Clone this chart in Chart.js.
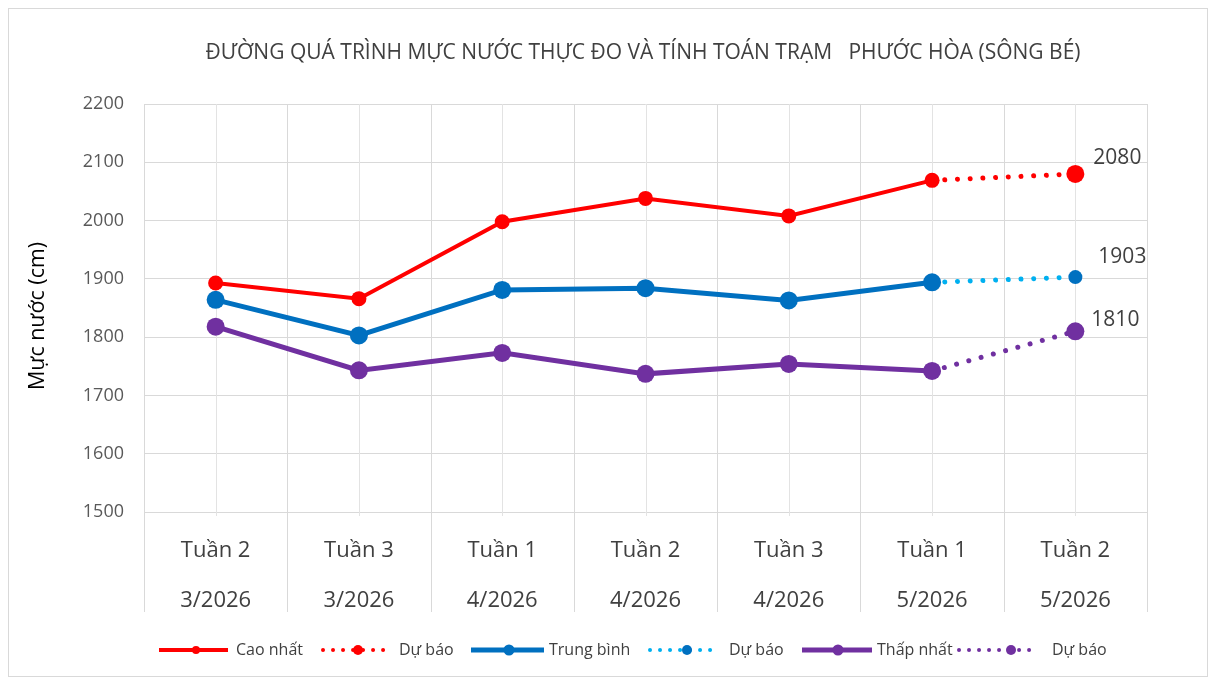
<!DOCTYPE html>
<html>
<head>
<meta charset="utf-8">
<script src="https://cdn.jsdelivr.net/npm/chart.js@4.4.1/dist/chart.umd.min.js"></script>
<style>
  html, body { margin: 0; padding: 0; background: #ffffff; }
  #wrap { position: relative; width: 1215px; height: 684px; }
</style>
</head>
<body>
<div id="wrap"><canvas id="c" width="1215" height="684"></canvas></div>
<script>
// ---- data ----
const weekLabels = ["Tuần 2", "Tuần 3", "Tuần 1", "Tuần 2", "Tuần 3", "Tuần 1", "Tuần 2"];
const monthLabels = ["3/2026", "3/2026", "4/2026", "4/2026", "4/2026", "5/2026", "5/2026"];
const caoNhat = [1893, 1866, 1998, 2038, 2008, 2069, null];
const caoNhatDuBao = [null, null, null, null, null, 2069, 2080];
const trungBinh = [1864, 1803, 1881, 1884, 1863, 1894, null];
const trungBinhDuBao = [null, null, null, null, null, 1894, 1903];
const thapNhat = [1818, 1743, 1773, 1737, 1754, 1742, null];
const thapNhatDuBao = [null, null, null, null, null, 1742, 1810];
const yMin = 1500, yMax = 2200, yStep = 100;
const titleText = "ĐƯỜNG QUÁ TRÌNH MỰC NƯỚC THỰC ĐO VÀ TÍNH TOÁN TRẠM   PHƯỚC HÒA (SÔNG BÉ)";
const yTitle = "Mực nước (cm)";

const categories = weekLabels.map((w, i) => [w, monthLabels[i]]);
const FONT = "'Open Sans', sans-serif";
const TXT = "#404040";

function fcRadius(arr, r) { return arr.map((v, i) => (v !== null && i === arr.length - 1) ? r : 0); }

const datasets = [
  { label: "Dự báo", data: caoNhatDuBao, borderColor: "#ff0000", backgroundColor: "#ff0000",
    borderWidth: 5, borderDash: [0.01, 12.7], borderCapStyle: "round", pointBorderWidth: 0,
    pointRadius: fcRadius(caoNhatDuBao, 9), pointHoverRadius: 0, showValue: true, dx: 18, dy: -16, order: 4 },
  { label: "Dự báo", data: trungBinhDuBao, borderColor: "#00b0f0", backgroundColor: "#0070c0",
    borderWidth: 5, borderDash: [0.01, 12.7], borderCapStyle: "round", pointBorderWidth: 0,
    pointRadius: fcRadius(trungBinhDuBao, 7), pointHoverRadius: 0, showValue: true, dx: 23, dy: -20, order: 5 },
  { label: "Dự báo", data: thapNhatDuBao, borderColor: "#7030a0", backgroundColor: "#7030a0",
    borderWidth: 5, borderDash: [0.01, 12.7], borderCapStyle: "round", pointBorderWidth: 0,
    pointRadius: fcRadius(thapNhatDuBao, 9), pointHoverRadius: 0, showValue: true, dx: 16, dy: -11, order: 6 },
  { label: "Cao nhất", data: caoNhat, borderColor: "#ff0000", backgroundColor: "#ff0000",
    borderWidth: 4, pointRadius: 7.5, pointHoverRadius: 7.5, pointBorderWidth: 0, order: 1 },
  { label: "Trung bình", data: trungBinh, borderColor: "#0070c0", backgroundColor: "#0070c0",
    borderWidth: 5, pointRadius: 9, pointHoverRadius: 9, pointBorderWidth: 0, order: 2 },
  { label: "Thấp nhất", data: thapNhat, borderColor: "#7030a0", backgroundColor: "#7030a0",
    borderWidth: 5, pointRadius: 9, pointHoverRadius: 9, pointBorderWidth: 0, order: 3 }
];

const legendItems = [
  { text: "Cao nhất", color: "#ff0000", mColor: "#ff0000", dotted: false, x0: 159, x1: 228, m: 196, tx: 236, w: 4, r: 4 },
  { text: "Dự báo", color: "#ff0000", mColor: "#ff0000", dotted: true, x0: 323, x1: 389, m: 358, tx: 399, w: 4, r: 5 },
  { text: "Trung bình", color: "#0070c0", mColor: "#0070c0", dotted: false, x0: 471, x1: 544, m: 509, tx: 549, w: 5, r: 5.5 },
  { text: "Dự báo", color: "#00b0f0", mColor: "#0070c0", dotted: true, x0: 650, x1: 720, m: 687, tx: 729, w: 4, r: 5 },
  { text: "Thấp nhất", color: "#7030a0", mColor: "#7030a0", dotted: false, x0: 802, x1: 872, m: 838, tx: 877, w: 5, r: 5.5 },
  { text: "Dự báo", color: "#7030a0", mColor: "#7030a0", dotted: true, x0: 959, x1: 1033, m: 1011, tx: 1052, w: 4, r: 5 }
];

// draw text condensed to a target width (mimics the narrow original font)
function narrowText(ctx, text, x, y, targetW) {
  const w = ctx.measureText(text).width;
  const sx = targetW / w;
  ctx.save();
  ctx.translate(x, y);
  ctx.scale(sx, 1);
  ctx.fillText(text, 0, 0);
  ctx.restore();
}

const decor = {
  id: "decor",
  beforeDraw(chart) {
    const ctx = chart.ctx;
    ctx.save();
    ctx.fillStyle = "#ffffff";
    ctx.fillRect(0, 0, chart.width, chart.height);
    ctx.strokeStyle = "#d9d9d9";
    ctx.lineWidth = 1;
    ctx.strokeRect(8.5, 8.5, 1199, 668);
    ctx.restore();
  },
  beforeDatasetsDraw(chart) {
    const ctx = chart.ctx, xs = chart.scales.x, a = chart.chartArea;
    ctx.save();
    ctx.strokeStyle = "#e3e3e3";
    ctx.lineWidth = 1;
    for (let i = 0; i < categories.length; i++) {
      const px = Math.round(xs.getPixelForValue(i)) + 0.5;
      ctx.beginPath(); ctx.moveTo(px, a.top); ctx.lineTo(px, a.bottom + 4); ctx.stroke();
    }
    ctx.strokeStyle = "#d9d9d9";
    const half = (xs.getPixelForValue(1) - xs.getPixelForValue(0)) / 2;
    for (let i = 0; i <= categories.length; i++) {
      const px = Math.round(xs.getPixelForValue(i) - half) + 0.5;
      ctx.beginPath(); ctx.moveTo(px, a.top); ctx.lineTo(px, 612); ctx.stroke();
    }
    ctx.restore();
  },
  afterDraw(chart) {
    const ctx = chart.ctx;
    ctx.save();
    // title
    ctx.fillStyle = TXT;
    ctx.font = "21px " + FONT;
    ctx.textAlign = "center";
    ctx.textBaseline = "middle";
    narrowText(ctx, titleText, 643, 53, 875);
    // y title
    ctx.save();
    ctx.translate(38, 316);
    ctx.rotate(-Math.PI / 2);
    ctx.fillStyle = "#000000";
    ctx.font = "21px " + FONT;
    narrowText(ctx, yTitle, 0, 0, 148);
    ctx.restore();
    // value labels on forecast end points
    ctx.font = "21px " + FONT;
    ctx.fillStyle = TXT;
    ctx.textAlign = "left";
    chart.data.datasets.forEach((ds, di) => {
      if (!ds.showValue) return;
      const meta = chart.getDatasetMeta(di);
      const idx = ds.data.length - 1;
      const pt = meta.data[idx];
      ctx.fillText(String(ds.data[idx]), pt.x + ds.dx, pt.y + ds.dy);
    });
    // legend
    const ly = 650;
    ctx.font = "16px " + FONT;
    ctx.textBaseline = "middle";
    legendItems.forEach(it => {
      ctx.strokeStyle = it.color;
      ctx.lineWidth = it.w;
      if (it.dotted) { ctx.lineCap = "round"; ctx.setLineDash([0.01, 10]); }
      else { ctx.lineCap = "butt"; ctx.setLineDash([]); }
      ctx.beginPath(); ctx.moveTo(it.x0, ly); ctx.lineTo(it.x1, ly); ctx.stroke();
      ctx.setLineDash([]);
      ctx.fillStyle = it.mColor;
      ctx.beginPath(); ctx.arc(it.m, ly, it.r, 0, Math.PI * 2); ctx.fill();
      ctx.fillStyle = TXT;
      ctx.fillText(it.text, it.tx, ly);
    });
    ctx.restore();
  }
};

new Chart(document.getElementById("c"), {
  type: "line",
  data: { labels: categories, datasets },
  options: {
    responsive: false,
    animation: false,
    events: [],
    layout: { padding: { left: 0, right: 68, top: 104, bottom: 0 } },
    plugins: { legend: { display: false }, title: { display: false }, tooltip: { enabled: false } },
    elements: { line: { tension: 0 }, point: { borderWidth: 0 } },
    scales: {
      x: {
        offset: true,
        grid: { display: false },
        border: { display: false },
        ticks: { color: TXT, font: { family: FONT, size: 22, lineHeight: 2.27 }, padding: 6, maxRotation: 0, autoSkip: false },
        afterFit(s) { s.height = 684 - 512; }
      },
      y: {
        min: yMin, max: yMax,
        grid: { color: "#d9d9d9", drawTicks: false },
        border: { display: false },
        ticks: { stepSize: yStep, color: "#595959", font: { family: FONT, size: 18 }, padding: 20,
                 callback: (v) => String(v) },
        afterFit(s) { s.width = 144; }
      }
    }
  },
  plugins: [decor]
});
</script>
</body>
</html>
